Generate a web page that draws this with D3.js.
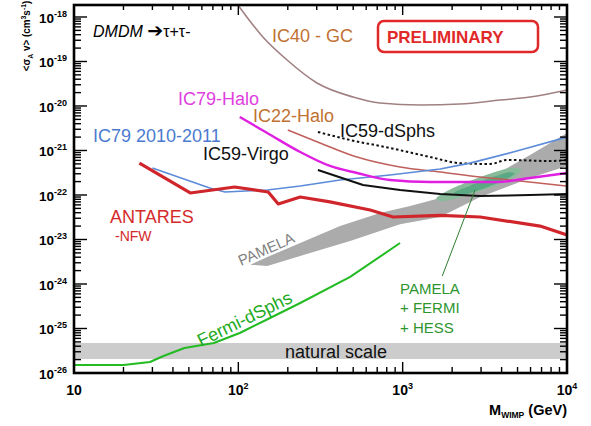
<!DOCTYPE html>
<html>
<head>
<meta charset="utf-8">
<script src="https://cdn.jsdelivr.net/npm/d3@7"></script>
<style>
  body { margin: 0; background: #fff; }
  svg { font-family: Arial, "Liberation Sans", sans-serif; }
</style>
</head>
<body>
<svg id="chart" width="591" height="426"></svg>
<script>
// --- data: WIMP mass (GeV) vs <sigma_A v> (cm^3 s^-1) ---
const xTickValues = [10, 100, 1000, 10000];
const xTickExp = ["", "2", "3", "4"];
const yTickValues = [1e-26, 1e-25, 1e-24, 1e-23, 1e-22, 1e-21, 1e-20, 1e-19, 1e-18];
const yTickExp = ["-26", "-25", "-24", "-23", "-22", "-21", "-20", "-19", "-18"];

const antaresMass = [25, 51, 95, 152, 175, 238, 361, 634, 875, 1690, 2960, 6860, 10000];
const antaresSigma = [5.2e-22, 1.11e-22, 1.51e-22, 1.17e-22, 6.3e-23, 9.0e-23, 7.0e-23, 4.6e-23, 3.2e-23, 3.5e-23, 3.2e-23, 2.0e-23, 1.26e-23];

const ic79Mass = [30, 67, 83, 150, 238, 416, 838, 1690, 2570, 4700, 10000];
const ic79Sigma = [4.05e-22, 1.43e-22, 1.17e-22, 1.30e-22, 1.59e-22, 2.17e-22, 2.81e-22, 3.84e-22, 5.2e-22, 9.25e-22, 2.0e-21];

const ic79HaloMass = [102, 150, 238, 361, 527, 838, 1470, 3760, 5960, 10000];
const ic79HaloSigma = [5.66e-21, 2.47e-21, 9.25e-22, 4.49e-22, 3.12e-22, 2.17e-22, 1.96e-22, 1.96e-22, 2.41e-22, 3.12e-22];

const ic22HaloMass = [200, 314, 527, 964, 1690, 2960, 5190, 10000];
const ic22HaloSigma = [2.89e-21, 1.48e-21, 7.14e-22, 4.26e-22, 3.29e-22, 2.54e-22, 2.07e-22, 1.59e-22];

const ic40Mass = [98, 141, 198, 301, 499, 728, 1280, 2230, 3920, 5960, 10000];
const ic40Sigma = [2.0e-18, 3.56e-19, 1.08e-19, 3.29e-20, 1.59e-20, 1.17e-20, 1.05e-20, 1.11e-20, 1.36e-20, 1.59e-20, 2.29e-20];

const ic59DsphMass = [305, 479, 838, 1470, 2230, 3400, 4320, 7890, 10000];
const ic59DsphSigma = [2.61e-21, 1.72e-21, 1.14e-21, 7.14e-22, 5.2e-22, 4.97e-22, 6.12e-22, 5.81e-22, 6.12e-22];

const ic59VirgoMass = [305, 574, 964, 1690, 2960, 5960, 10000];
const ic59VirgoSigma = [3.65e-22, 1.68e-22, 1.30e-22, 1.05e-22, 9.5e-23, 1.0e-22, 1.05e-22];

const fermiMass = [10, 20, 29, 35, 47, 71, 102, 156, 238, 479, 964];
const fermiSigma = [1.51e-26, 1.51e-26, 1.77e-26, 2.41e-26, 3.65e-26, 4.72e-26, 7.92e-26, 1.72e-25, 3.74e-25, 1.44e-24, 8.34e-24];

const naturalScale = [2.06e-26, 4.72e-26];

// PAMELA region outline (upper edge left->right, then lower edge right->left)
const pamelaMass = [118, 150, 238, 416, 728, 1110, 1690, 2570, 3920, 5960, 10000,
                    10000, 5960, 2960, 1690, 964, 479, 273, 150, 118];
const pamelaSigma = [2.7e-24, 4.04e-24, 8.34e-24, 2.01e-23, 3.94e-23, 5.66e-23, 8.57e-23, 1.44e-22, 3.29e-22, 7.92e-22, 2.47e-21,
                     4.49e-22, 2.41e-22, 9.0e-23, 3.2e-23, 2.2e-23, 9.25e-24, 4.97e-24, 2.54e-24, 2.7e-24];

// PAMELA + FERMI + HESS region
const combOuterMass = [1610, 2040, 2760, 3650, 4630, 5300, 4830, 3650, 2570, 1940, 1690];
const combOuterSigma = [8.8e-23, 1.45e-22, 2.3e-22, 3.3e-22, 4.1e-22, 3.7e-22, 2.6e-22, 1.6e-22, 1.05e-22, 7.7e-23, 7.3e-23];
const combInnerMass = [2080, 2570, 3400, 4390, 4800, 4200, 3170, 2400, 2110];
const combInnerSigma = [1.17e-22, 1.62e-22, 2.4e-22, 3.2e-22, 3.0e-22, 2.2e-22, 1.43e-22, 1.02e-22, 1.0e-22];
const combLeaderMass = [2760, 1740];
const combLeaderSigma = [1.3e-22, 1.5e-24];

// --- setup ---
const svg = d3.select("#chart");
const plot = { left: 74, right: 567, top: 5, bottom: 373 };

const x = d3.scaleLog().domain([10, 1e4]).range([plot.left, plot.right]);
const y = d3.scaleLog().domain([1e-26, 1.86e-18]).range([plot.bottom, plot.top]);

svg.append("clipPath").attr("id", "clip")
  .append("rect")
  .attr("x", plot.left).attr("y", plot.top)
  .attr("width", plot.right - plot.left).attr("height", plot.bottom - plot.top);

const g = svg.append("g").attr("clip-path", "url(#clip)");

const zip = (ms, ss) => ms.map((m, i) => [m, ss[i]]);
const line = d3.line().x(d => x(d[0])).y(d => y(d[1]));

// natural scale band
g.append("rect")
  .attr("x", x(10)).attr("width", x(1e4) - x(10))
  .attr("y", y(naturalScale[1]))
  .attr("height", y(naturalScale[0]) - y(naturalScale[1]))
  .attr("fill", "#cccccc");

// PAMELA band
g.append("path")
  .datum(zip(pamelaMass, pamelaSigma))
  .attr("d", d3.line().x(d => x(d[0])).y(d => y(d[1])).curve(d3.curveLinearClosed))
  .attr("fill", "#ababab");

// combined region
const blob = d3.line().x(d => x(d[0])).y(d => y(d[1])).curve(d3.curveCardinalClosed.tension(0.3));
g.append("path").datum(zip(combOuterMass, combOuterSigma))
  .attr("d", blob).attr("fill", "#88bb9a");
g.append("path").datum(zip(combInnerMass, combInnerSigma))
  .attr("d", blob).attr("fill", "#5aa884");

function drawLine(ms, ss, color, width, dash, curve) {
  g.append("path")
    .datum(zip(ms, ss))
    .attr("d", curve ? d3.line().x(d => x(d[0])).y(d => y(d[1])).curve(curve) : line)
    .attr("fill", "none")
    .attr("stroke", color)
    .attr("stroke-width", width)
    .attr("stroke-dasharray", dash || null)
    .attr("stroke-linejoin", "round");
}

drawLine(ic40Mass, ic40Sigma, "#a08082", 1.6, null, d3.curveMonotoneX);
drawLine(ic22HaloMass, ic22HaloSigma, "#c0605c", 1.6, null, d3.curveMonotoneX);
drawLine(ic59DsphMass, ic59DsphSigma, "#111", 2, "2.5,2.5", d3.curveMonotoneX);
drawLine(ic79Mass, ic79Sigma, "#5b8bd9", 1.6);
drawLine(ic79HaloMass, ic79HaloSigma, "#e020e0", 2.4, null, d3.curveMonotoneX);
drawLine(ic59VirgoMass, ic59VirgoSigma, "#111", 2);
drawLine(antaresMass, antaresSigma, "#d0262b", 3.2);
drawLine(fermiMass, fermiSigma, "#22bb22", 2);
drawLine(combLeaderMass, combLeaderSigma, "#2f7d2f", 1);

// --- frame and ticks ---
const isMajor = v => Math.abs(Math.log10(v) - Math.round(Math.log10(v))) < 1e-6;
const axes = svg.append("g").attr("stroke", "#000").attr("stroke-width", 1.4);

x.ticks().forEach(v => {
  const len = isMajor(v) ? 11 : 6;
  axes.append("line").attr("x1", x(v)).attr("x2", x(v))
    .attr("y1", plot.bottom).attr("y2", plot.bottom - len);
  axes.append("line").attr("x1", x(v)).attr("x2", x(v))
    .attr("y1", plot.top).attr("y2", plot.top + (isMajor(v) ? 10 : 5));
});
y.ticks().forEach(v => {
  const len = isMajor(v) ? 13 : 7;
  axes.append("line").attr("y1", y(v)).attr("y2", y(v))
    .attr("x1", plot.left).attr("x2", plot.left + len);
  axes.append("line").attr("y1", y(v)).attr("y2", y(v))
    .attr("x1", plot.right).attr("x2", plot.right - len);
});

svg.append("rect")
  .attr("x", plot.left).attr("y", plot.top)
  .attr("width", plot.right - plot.left).attr("height", plot.bottom - plot.top)
  .attr("fill", "none").attr("stroke", "#000").attr("stroke-width", 2.6);

// tick labels
xTickValues.forEach((v, i) => {
  const t = svg.append("text")
    .attr("x", x(v)).attr("y", 395)
    .attr("text-anchor", "middle")
    .attr("font-size", 14).attr("font-weight", "bold");
  t.append("tspan").text("10");
  if (xTickExp[i]) t.append("tspan").attr("dy", -6).attr("font-size", 9).text(xTickExp[i]);
});
yTickValues.forEach((v, i) => {
  const t = svg.append("text")
    .attr("x", 67).attr("y", y(v) + 6)
    .attr("text-anchor", "end")
    .attr("font-size", 13.5).attr("font-weight", "bold");
  t.append("tspan").text("10");
  t.append("tspan").attr("dy", -6).attr("font-size", 9).text(yTickExp[i]);
});

// axis titles
const xt = svg.append("text").attr("x", 567).attr("y", 415)
  .attr("text-anchor", "end").attr("font-size", 14.5).attr("font-weight", "bold");
xt.append("tspan").text("M");
xt.append("tspan").attr("dy", 3).attr("font-size", 8.5).text("WIMP");
xt.append("tspan").attr("dy", -3).text(" (GeV)");

const yt = svg.append("text")
  .attr("transform", "translate(30,36) rotate(-90) scale(0.86,1)")
  .attr("text-anchor", "middle").attr("font-size", 11.5).attr("font-weight", "bold");
yt.append("tspan").text("<σ");
yt.append("tspan").attr("dy", 3).attr("font-size", 8).text("A");
yt.append("tspan").attr("dy", -3).text(" v> (cm");
yt.append("tspan").attr("dy", -4).attr("font-size", 8).text("3");
yt.append("tspan").attr("dy", 4).text("s");
yt.append("tspan").attr("dy", -4).attr("font-size", 8).text("-1");
yt.append("tspan").attr("dy", 4).text(")");

// --- annotations ---
function label(txt, px, py, color, size, extra) {
  const t = svg.append("text").attr("x", px).attr("y", py)
    .attr("fill", color).attr("font-size", size).text(txt);
  if (extra) extra(t);
  return t;
}

const dm = svg.append("text").attr("x", 93).attr("y", 37).attr("font-size", 16);
dm.append("tspan").attr("font-style", "italic").text("DMDM ");
dm.append("tspan").attr("font-family", "DejaVu Sans").attr("font-weight", "bold")
  .attr("font-size", 19).text("➔");
dm.append("tspan").text("τ+τ-");

label("IC40 - GC", 272, 42, "#c07232", 18);
svg.append("rect").attr("x", 378).attr("y", 21).attr("width", 160).attr("height", 31)
  .attr("rx", 6).attr("fill", "none").attr("stroke", "#e02828").attr("stroke-width", 2.5);
label("PRELIMINARY", 387, 43, "#e02828", 17, t => t.attr("font-weight", "bold"));

label("IC79-Halo", 178, 105, "#e040e0", 18);
label("IC22-Halo", 253, 122, "#c07232", 18);
label("IC59-dSphs", 340, 137, "#111", 18);
label("IC79 2010-2011", 93, 142, "#4a7bd0", 18);
label("IC59-Virgo", 203, 160, "#111", 18);
label("ANTARES", 110, 223, "#d42a2a", 18);
label("-NFW", 115, 241, "#d42a2a", 14);

svg.append("text").attr("transform", "translate(241,266) rotate(-24)")
  .attr("fill", "#7f7f7f").attr("font-size", 15).text("PAMELA");
svg.append("text").attr("transform", "translate(201,347) rotate(-26)")
  .attr("fill", "#22aa22").attr("font-size", 18).text("Fermi-dSphs");

label("PAMELA", 400, 294, "#2e952e", 15);
label("+ FERMI", 400, 313, "#2e952e", 15);
label("+ HESS", 400, 333, "#2e952e", 15);
label("natural scale", 285, 358, "#111", 18);
</script>
</body>
</html>
